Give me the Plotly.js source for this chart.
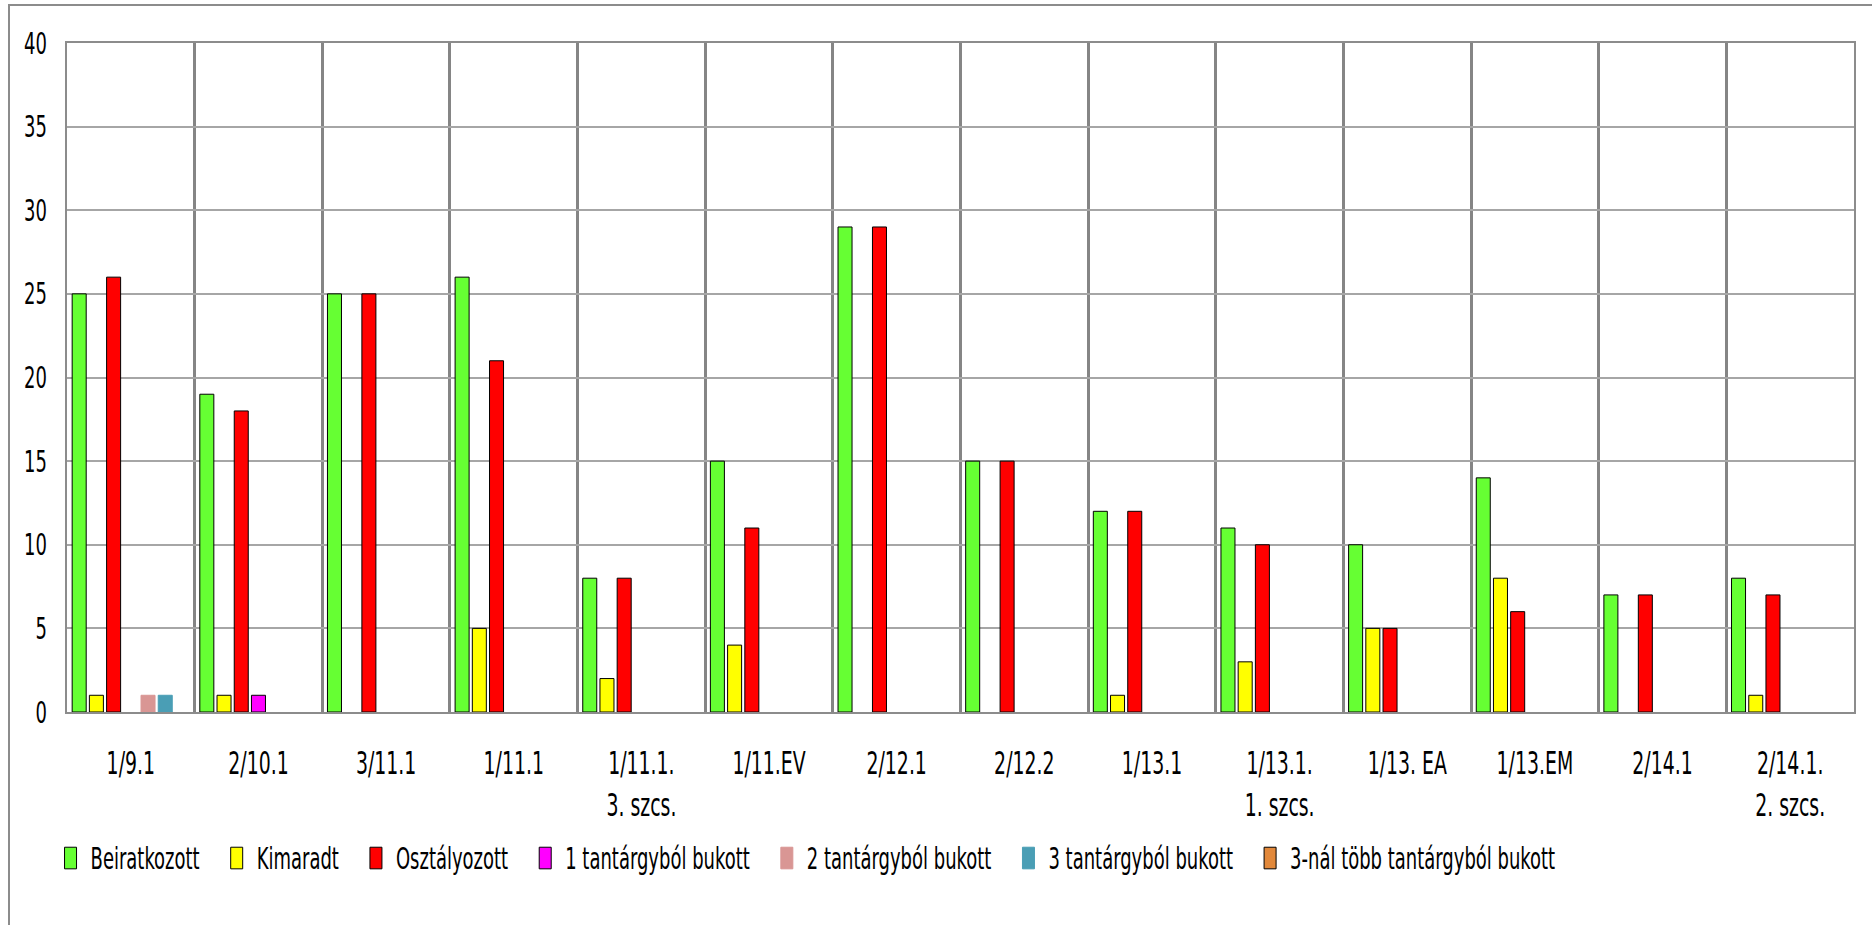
<!DOCTYPE html>
<html>
<head>
<meta charset="utf-8">
<script src="https://cdn.plot.ly/plotly-3.0.1.min.js"></script>
<style>
  html, body { margin: 0; padding: 0; background: #ffffff; }
  #frame { position: absolute; left: 8px; top: 4px; width: 2000px; height: 1000px;
           border-left: 2px solid #8c8c8c; border-top: 2px solid #8c8c8c; box-sizing: border-box; }
  #chart { position: absolute; left: 0; top: 0; width: 1872px; height: 925px; }
</style>
</head>
<body>
<div id="frame"></div>
<div id="chart"></div>
<script>
const categories = ["1/9.1", "2/10.1", "3/11.1", "1/11.1", "1/11.1.<br>3. szcs.", "1/11.EV", "2/12.1",
                    "2/12.2", "1/13.1", "1/13.1.<br>1. szcs.", "1/13. EA", "1/13.EM", "2/14.1", "2/14.1.<br>2. szcs."];
const beiratkozott   = [25, 19, 25, 26, 8, 15, 29, 15, 12, 11, 10, 14, 7, 8];
const kimaradt       = [1, 1, 0, 5, 2, 4, 0, 0, 1, 3, 5, 8, 0, 1];
const osztalyozott   = [26, 18, 25, 21, 8, 11, 29, 15, 12, 10, 5, 6, 7, 7];
const bukott1        = [0, 1, 0, 0, 0, 0, 0, 0, 0, 0, 0, 0, 0, 0];
const bukott2        = [1, 0, 0, 0, 0, 0, 0, 0, 0, 0, 0, 0, 0, 0];
const bukott3        = [1, 0, 0, 0, 0, 0, 0, 0, 0, 0, 0, 0, 0, 0];
const bukottTobb     = [0, 0, 0, 0, 0, 0, 0, 0, 0, 0, 0, 0, 0, 0];
const seriesNames = ["Beiratkozott", "Kimaradt", "Osztályozott", "1 tantárgyból bukott",
                     "2 tantárgyból bukott", "3 tantárgyból bukott", "3-nál több tantárgyból bukott"];
const yTicks = [0, 5, 10, 15, 20, 25, 30, 35, 40];

const seriesData = [beiratkozott, kimaradt, osztalyozott, bukott1, bukott2, bukott3, bukottTobb];
const colors = ["#66FF33", "#FFFF00", "#FF0000", "#FF00FF", "#D99694", "#4A9EB5", "#E2883A"];
const lineColors = ["#000000", "#000000", "#000000", "#000000", "#D99694", "#4A9EB5", "#000000"];

const FONT = "DejaVu Sans Condensed, sans-serif";

const traces = seriesData.map((vals, i) => ({
  type: "bar",
  name: seriesNames[i],
  x: categories,
  y: vals,
  marker: {
    color: colors[i],
    line: { color: lineColors[i], width: vals.map(v => (v > 0 ? 1 : 0)) }
  },
  hoverinfo: "x+y+name"
}));

const layout = {
  width: 1872, height: 925,
  margin: { l: 67, r: 18, t: 43, b: 213 },
  paper_bgcolor: "rgba(0,0,0,0)",
  plot_bgcolor: "#ffffff",
  barmode: "group",
  bargap: 0.056,
  bargroupgap: 0.186,
  showlegend: true,
  font: { family: FONT, size: 20, color: "#000000" },
  xaxis: {
    type: "category",
    tickson: "boundaries",
    showgrid: true, gridcolor: "#858585", gridwidth: 2.5,
    showline: true, linecolor: "#8c8c8c", linewidth: 2, mirror: true,
    ticks: "", ticklabelstandoff: 24,
    tickfont: { family: FONT, size: 21, color: "#000000" },
    zeroline: false
  },
  yaxis: {
    range: [0, 40],
    tickvals: yTicks,
    ticktext: yTicks.map(String),
    showgrid: true, gridcolor: "#a6a6a6", gridwidth: 2,
    showline: true, linecolor: "#8c8c8c", linewidth: 2, mirror: true,
    ticks: "", ticklabelstandoff: 14,
    tickfont: { family: FONT, size: 20, color: "#000000" },
    zeroline: false
  },
  legend: {
    orientation: "h",
    xref: "container", yref: "container",
    x: 0.027, xanchor: "left",
    y: 0.0724, yanchor: "middle",
    font: { family: FONT, size: 20, color: "#000000" },
    bgcolor: "rgba(0,0,0,0)",
    traceorder: "normal"
  }
};

Plotly.newPlot("chart", traces, layout, { displayModeBar: false }).then(gd => {
  // The reference uses tall, narrow lettering: stretch the text vertically.
  function stretch(selector, pivot, s) {
    gd.querySelectorAll(selector).forEach(t => {
      const bb = t.getBBox();
      const py = pivot === "top" ? bb.y : bb.y + bb.height / 2;
      const tr = t.getAttribute("transform") || "";
      t.setAttribute("transform", tr + " translate(0," + py + ") scale(1," + s + ") translate(0," + (-py) + ")");
    });
  }
  stretch(".xtick text", "top", 1.55);
  stretch(".ytick text", "center", 1.5);
  stretch(".legendtext", "center", 1.5);

  // Legend: Excel-like spacing between entries and tall outlined swatches.
  gd.querySelectorAll(".legend [clip-path]").forEach(e => e.removeAttribute("clip-path"));
  const EXTRA_GAP = 12;
  gd.querySelectorAll(".legend .traces").forEach((g, i) => {
    const tr = g.getAttribute("transform") || "";
    const m = tr.match(/translate\(\s*([-\d.e]+)[ ,]+([-\d.e]+)\s*\)/);
    if (m) {
      g.setAttribute("transform", "translate(" + (parseFloat(m[1]) + EXTRA_GAP * i) + "," + m[2] + ")");
    }
    g.querySelectorAll(".legendpoints path").forEach(p => {
      const ptr = p.getAttribute("transform") || "";
      p.setAttribute("transform", ptr + " scale(1,1.8)");
      p.style.stroke = lineColors[i];
      p.style.strokeWidth = "1px";
      p.setAttribute("vector-effect", "non-scaling-stroke");
    });
  });
});
</script>
</body>
</html>
